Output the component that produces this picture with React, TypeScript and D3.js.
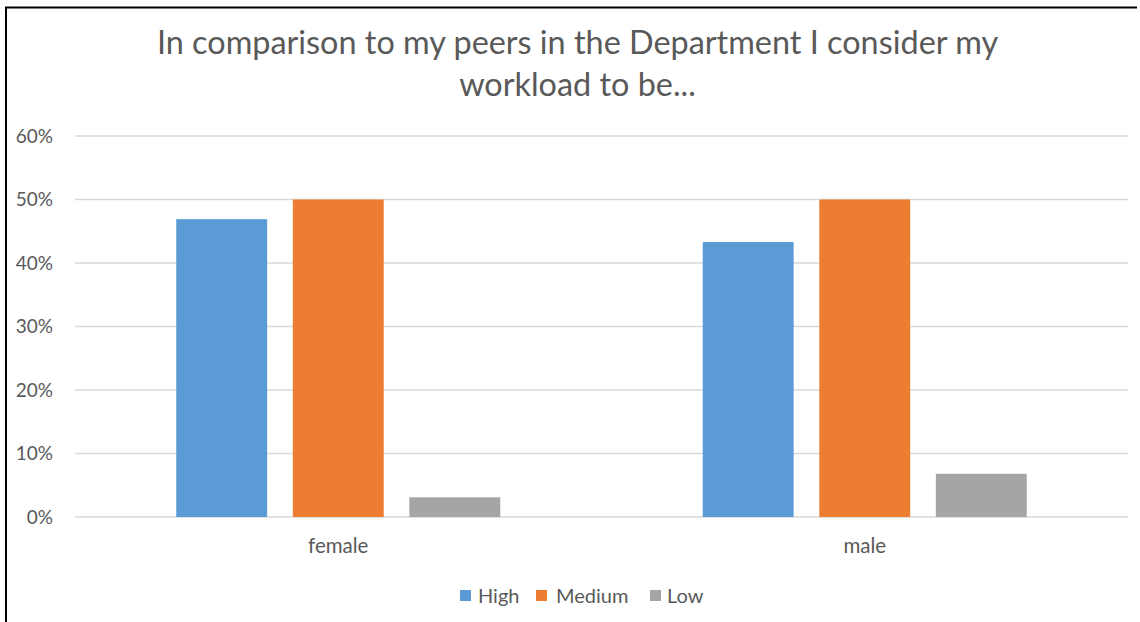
import React from "react";
import * as d3 from "d3";

const categories = ["female", "male"];
const seriesNames = ["High", "Medium", "Low"];
const highValues = [0.469, 0.433];
const mediumValues = [0.5, 0.5];
const lowValues = [0.031, 0.068];
const yTicks = [0, 0.1, 0.2, 0.3, 0.4, 0.5, 0.6];
const colors = ["#5B9BD5", "#ED7D31", "#A5A5A5"];
const titleLines = [
  "In comparison to my peers in the Department I consider my",
  "workload to be...",
];

const W = 1140;
const H = 622;
const plot = { left: 75, right: 1128, top: 136, bottom: 517 };
const FONT = "Lato, 'Open Sans', sans-serif";
const TEXT = "#595959";

export default function App() {
  const seriesValues = [highValues, mediumValues, lowValues];
  const y = d3.scaleLinear().domain([0, 0.6]).range([plot.bottom, plot.top]);
  const x0 = d3.scaleBand<string>().domain(categories).range([plot.left, plot.right]);
  const groupW = 324;
  const x1 = d3
    .scaleBand<string>()
    .domain(seriesNames)
    .range([(x0.bandwidth() - groupW) / 2, (x0.bandwidth() + groupW) / 2])
    .paddingInner(0.22);
  const fmt = d3.format(".0%");

  const legendItems = [
    { name: "High", sx: 460, tx: 478 },
    { name: "Medium", sx: 536, tx: 556 },
    { name: "Low", sx: 650, tx: 667 },
  ];

  return (
    <div style={{ position: "fixed", left: 0, top: 0 }}>
      <svg width={W} height={H} style={{ display: "block", background: "#fff" }}>
        <rect x={0} y={0} width={W} height={H} fill="#fff" />
        <line x1={6} x2={6} y1={7} y2={H} stroke="#000" strokeWidth={2} />
        <line x1={5} x2={1137} y1={7.5} y2={7.5} stroke="#000" strokeWidth={2} />
        {titleLines.map((t, i) => (
          <text
            key={i}
            x={577.5}
            y={54 + i * 42}
            textAnchor="middle"
            fontFamily={FONT}
            fontSize={32.4}
            fill={TEXT}
          >
            {t}
          </text>
        ))}
        {yTicks.map((t) => (
          <g key={t}>
            <line
              x1={plot.left}
              x2={plot.right}
              y1={y(t)}
              y2={y(t)}
              stroke="#D9D9D9"
              strokeWidth={1.5}
            />
            <text
              x={53}
              y={y(t) + 6.5}
              textAnchor="end"
              fontFamily={FONT}
              fontSize={19}
              fill={TEXT}
            >
              {fmt(t)}
            </text>
          </g>
        ))}
        {categories.map((c, ci) => (
          <g key={c} transform={`translate(${x0(c)},0)`}>
            {seriesNames.map((s, si) => {
              const v = seriesValues[si][ci];
              return (
                <rect
                  key={s}
                  x={x1(s)}
                  y={y(v)}
                  width={x1.bandwidth()}
                  height={y(0) - y(v)}
                  fill={colors[si]}
                />
              );
            })}
            <text
              x={x0.bandwidth() / 2}
              y={553}
              textAnchor="middle"
              fontFamily={FONT}
              fontSize={20.5}
              fill={TEXT}
            >
              {c}
            </text>
          </g>
        ))}
        {legendItems.map((l, i) => (
          <g key={l.name}>
            <rect x={l.sx} y={590} width={11} height={11} fill={colors[i]} />
            <text x={l.tx} y={603} fontFamily={FONT} fontSize={20} fill={TEXT}>
              {seriesNames[i]}
            </text>
          </g>
        ))}
      </svg>
    </div>
  );
}
